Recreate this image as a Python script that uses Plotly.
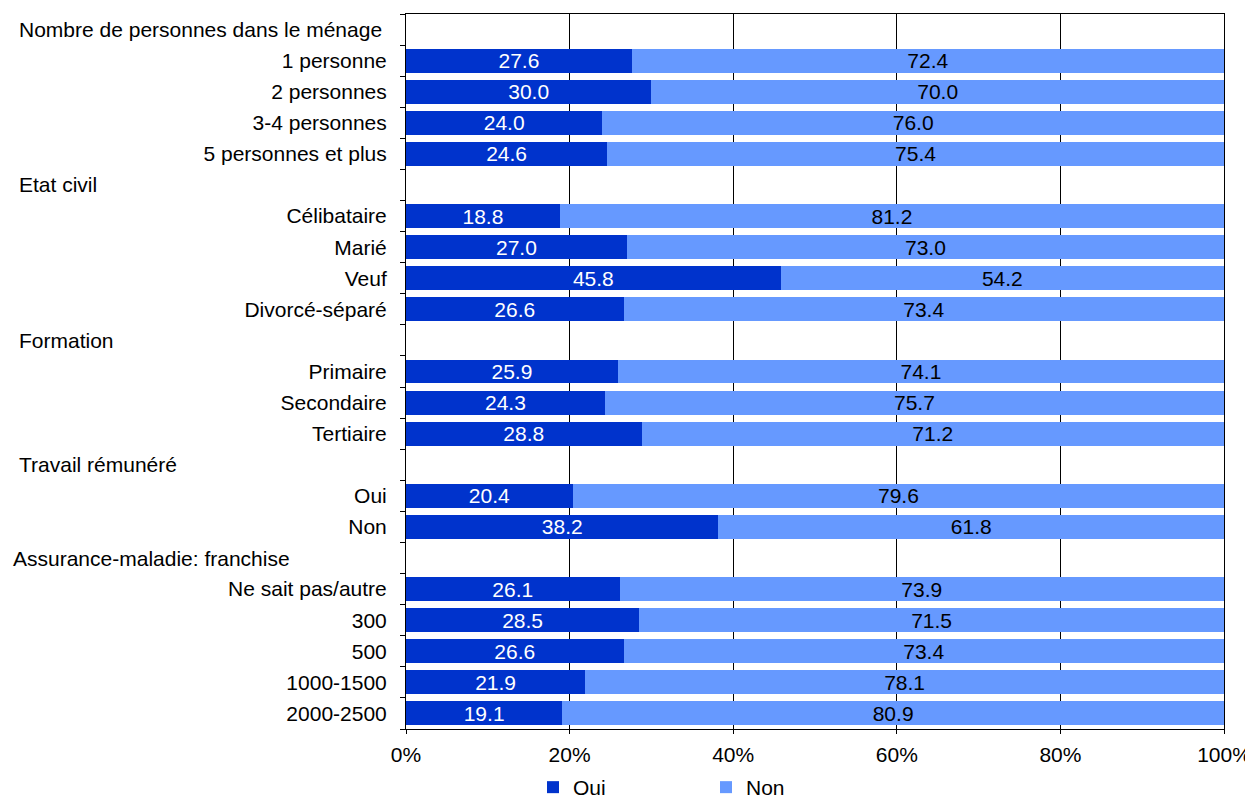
import plotly.graph_objects as go

# ---------------------------------------------------------
# Données (en %)
# ---------------------------------------------------------
groupes = [
    "Nombre de personnes dans le ménage",
    "Etat civil",
    "Formation",
    "Travail rémunéré",
    "Assurance-maladie: franchise",
]
categories = [
    ["1 personne", "2 personnes", "3-4 personnes", "5 personnes et plus"],
    ["Célibataire", "Marié", "Veuf", "Divorcé-séparé"],
    ["Primaire", "Secondaire", "Tertiaire"],
    ["Oui", "Non"],
    ["Ne sait pas/autre", "300", "500", "1000-1500", "2000-2500"],
]
oui = [
    [27.6, 30.0, 24.0, 24.6],
    [18.8, 27.0, 45.8, 26.6],
    [25.9, 24.3, 28.8],
    [20.4, 38.2],
    [26.1, 28.5, 26.6, 21.9, 19.1],
]
non = [
    [72.4, 70.0, 76.0, 75.4],
    [81.2, 73.0, 54.2, 73.4],
    [74.1, 75.7, 71.2],
    [79.6, 61.8],
    [73.9, 71.5, 73.4, 78.1, 80.9],
]
x_ticks = [0, 20, 40, 60, 80, 100]

COULEUR_OUI = "#0033CC"
COULEUR_NON = "#6699FF"
POLICE = "Liberation Sans, Arial, sans-serif"
TAILLE = 21

# ---- Mise à plat : une ligne par en-tête + une par catégorie --------------
rows_y, rows_lab, rows_oui, rows_non = [], [], [], []
entetes = []  # (position, texte)
pos = 0
for g, cats, o, n in zip(groupes, categories, oui, non):
    entetes.append((pos, g))
    pos += 1
    for c, vo, vn in zip(cats, o, n):
        rows_y.append(pos)
        rows_lab.append(c)
        rows_oui.append(vo)
        rows_non.append(vn)
        pos += 1
n_rows = pos

# ---- Géométrie (pixels de la page ; le body a une marge de 8 px) ----------
OFFSET = 8
PAGE_W, PAGE_H = 1253, 801
P_LEFT, P_RIGHT, P_TOP, P_BOTTOM = 406, 1224, 14, 729
W, H = PAGE_W - OFFSET, PAGE_H - OFFSET
ML, MT = P_LEFT - OFFSET, P_TOP - OFFSET
MR, MB = PAGE_W - P_RIGHT, PAGE_H - P_BOTTOM
plot_w = P_RIGHT - P_LEFT
plot_h = P_BOTTOM - P_TOP

fig = go.Figure()
fig.add_trace(go.Bar(
    y=rows_y, x=rows_oui, name="Oui", orientation="h",
    marker=dict(color=COULEUR_OUI, line=dict(width=0)),
    texttemplate="%{x:.1f}", textposition="inside", insidetextanchor="middle",
    textangle=0, constraintext="none",
    textfont=dict(color="white", family=POLICE, size=TAILLE),
))
fig.add_trace(go.Bar(
    y=rows_y, x=rows_non, name="Non", orientation="h",
    marker=dict(color=COULEUR_NON, line=dict(width=0)),
    texttemplate="%{x:.1f}", textposition="inside", insidetextanchor="middle",
    textangle=0, constraintext="none",
    textfont=dict(color="black", family=POLICE, size=TAILLE),
))

# ---- En-têtes de groupes (alignés à gauche) -------------------------------
for p, txt in entetes:
    px_left = 12 if txt.startswith("Assurance") else 18
    fig.add_annotation(
        x=(px_left - P_LEFT) / plot_w, xref="paper", xanchor="left",
        y=p, yref="y", yanchor="middle",
        text=txt, showarrow=False, borderpad=0,
        font=dict(family=POLICE, size=TAILLE, color="black"),
    )

fig.update_layout(
    width=W, height=H,
    margin=dict(l=ML, r=MR, t=MT, b=MB, autoexpand=False),
    barmode="stack", bargap=0.23,
    plot_bgcolor="white", paper_bgcolor="white",
    font=dict(family=POLICE, size=TAILLE, color="black"),
    legend=dict(
        orientation="h", traceorder="normal",
        x=(533 - P_LEFT) / plot_w, xanchor="left",
        y=-(767 - P_BOTTOM) / plot_h, yanchor="top",
        entrywidth=128, itemwidth=30, borderwidth=0,
        font=dict(family=POLICE, size=TAILLE),
    ),
    xaxis=dict(
        range=[0, 100], tickvals=x_ticks,
        ticktext=[f"{v}%" for v in x_ticks],
        showgrid=True, gridcolor="black", gridwidth=1,
        showline=True, linecolor="black", linewidth=1, mirror=True,
        ticks="outside", ticklen=4, tickcolor="black", zeroline=False,
        ticklabelstandoff=3, automargin=False,
    ),
    yaxis=dict(
        range=[n_rows - 0.5, -0.5],
        tickvals=rows_y, ticktext=rows_lab, ticks="",
        ticklabelstandoff=14, automargin=False,
        minor=dict(tickvals=[i - 0.5 for i in range(n_rows + 1)],
                   ticks="outside", ticklen=5, tickcolor="black", showgrid=False),
        showgrid=False, showline=True, linecolor="black", linewidth=1, mirror=True,
        zeroline=False,
    ),
)

fig.write_html("out.html")
